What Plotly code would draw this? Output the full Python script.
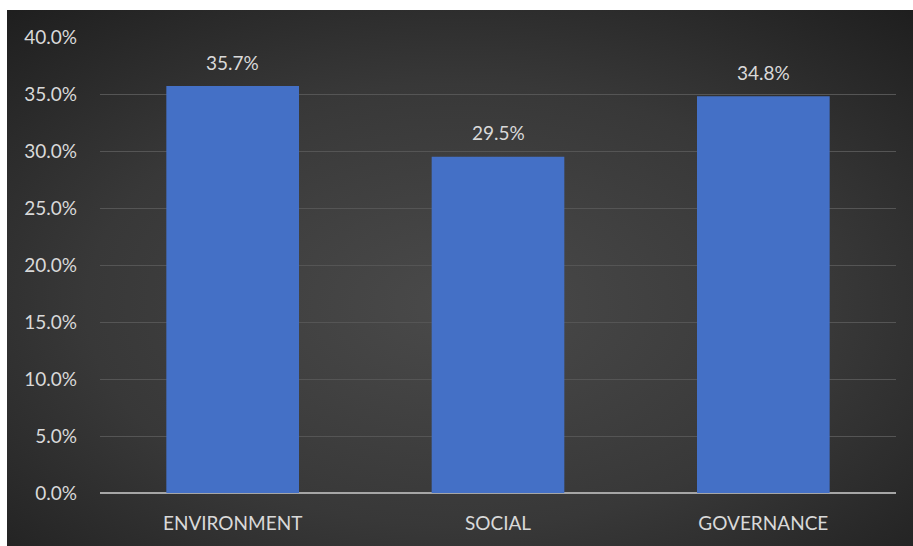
import plotly.graph_objects as go
import urllib.parse

categories = ["ENVIRONMENT", "SOCIAL", "GOVERNANCE"]
values = [35.7, 29.5, 34.8]
tick_vals = [0, 5, 10, 15, 20, 25, 30, 35, 40]
tick_text = ["0.0%", "5.0%", "10.0%", "15.0%", "20.0%", "25.0%", "30.0%", "35.0%", "40.0%"]
labels = [f"{v:.1f}%" for v in values]

W, H = 913, 546
L, R, T, B = 100, 17, 37, 53
pw, ph = W - L - R, H - T - B

svg = (
    "<svg xmlns='http://www.w3.org/2000/svg' width='906' height='536' preserveAspectRatio='none' viewBox='0 0 906 536'>"
    "<defs><radialGradient id='g' cx='50%' cy='55%' r='75%'>"
    "<stop offset='0%' stop-color='#4a4a4a'/>"
    "<stop offset='55%' stop-color='#383838'/>"
    "<stop offset='100%' stop-color='#1e1e1e'/>"
    "</radialGradient></defs>"
    "<rect width='906' height='536' fill='url(#g)'/></svg>"
)
src = "data:image/svg+xml;charset=utf-8," + urllib.parse.quote(svg)

font = "Lato, 'Open Sans', sans-serif"
txt = "#d9d9d9"
fs = 19

fig = go.Figure()
fig.add_trace(go.Bar(
    x=categories, y=values,
    marker=dict(color="#4470c6", line=dict(width=0)),
    hoverinfo="skip",
))

for c, v, t in zip(categories, values, labels):
    fig.add_annotation(
        x=c, y=v, text=t, showarrow=False,
        yanchor="middle", yshift=24,
        font=dict(color=txt, size=fs, family=font),
    )

fig.update_layout(
    width=W, height=H,
    margin=dict(l=L, r=R, t=T, b=B),
    paper_bgcolor="white",
    plot_bgcolor="rgba(0,0,0,0)",
    bargap=0.5,
    showlegend=False,
    font=dict(family=font, color=txt, size=fs),
    images=[dict(
        source=src, xref="paper", yref="paper",
        x=(7 - L) / pw, y=(H - B - 10) / ph,
        sizex=906 / pw, sizey=536 / ph,
        xanchor="left", yanchor="top",
        sizing="stretch", layer="below",
    )],
    xaxis=dict(
        showgrid=False, zeroline=False, showline=False,
        ticks="", tickfont=dict(color=txt, size=fs, family=font),
        ticklabelstandoff=17,
    ),
    yaxis=dict(
        range=[0, 40], tickvals=tick_vals, ticktext=tick_text,
        showgrid=True, gridcolor="#555555", gridwidth=1,
        zeroline=True, zerolinecolor="#a6a6a6", zerolinewidth=2,
        showline=False, ticks="",
        tickfont=dict(color=txt, size=fs, family=font),
        ticklabelstandoff=22,
    ),
)

fig.write_html(
    "out.html",
    config={"displayModeBar": False},
    post_script="document.body.style.margin='0';document.body.style.overflow='hidden';",
)
